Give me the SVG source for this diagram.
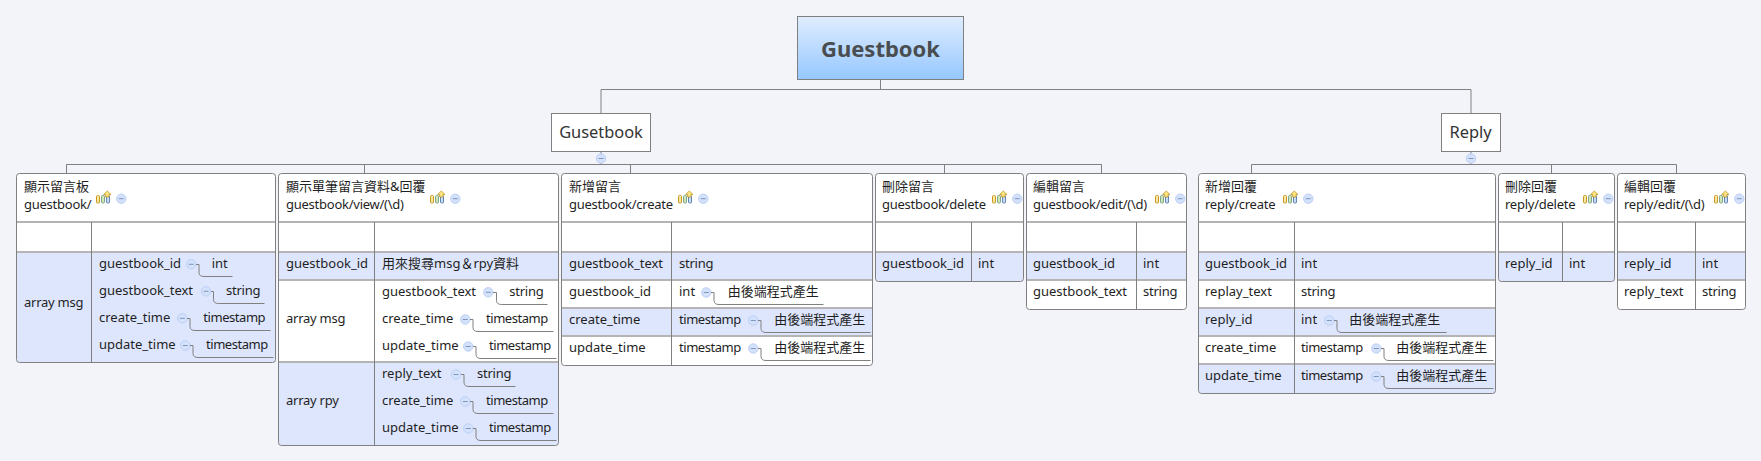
<svg xmlns="http://www.w3.org/2000/svg" width="1761" height="461" viewBox="0 0 1761 461">
<style>
text{font-family:"Noto Sans","Noto Sans CJK TC",sans-serif;font-size:13px;fill:#1f1f1f}
.t{letter-spacing:-.45px}
.h{letter-spacing:-.25px}
.up{transform:translateY(-.4px)}
.root{font-size:22px;font-weight:700;fill:#4a4d50;text-anchor:middle}
.main{font-size:16.4px;fill:#333;text-anchor:middle}
.box{fill:#fff;stroke:#808080;stroke-width:1}
.card{fill:none;stroke:#808080;stroke-width:1}
.bg{fill:#fff;stroke:none}
.blue{fill:#dde6fd;stroke:none}
.sep{stroke:#b4b4b4;stroke-width:2;fill:none}
.col{stroke:#808080;stroke-width:1;fill:none}
.con{stroke:#808080;stroke-width:1;fill:none}
.sub{stroke:#808080;stroke-width:1;fill:none}
.cc{fill:#d3e1fb;stroke:#bccff5;stroke-width:1}
.cm{stroke:#8296bd;stroke-width:1;fill:none}
</style>
<defs>
<linearGradient id="rootFill" x1="0" y1="0" x2="0" y2="1"><stop offset="0" stop-color="#e0edfe"/><stop offset="1" stop-color="#95c7ff"/></linearGradient>
<g id="collapse"><circle r="4.7" class="cc"/><path d="M-2.5 0H2.5" class="cm"/></g>
<g id="hicons">
<rect x="0.5" y="0.5" width="3" height="7.5" rx="1" fill="#f6e7a8" stroke="#c9981f"/>
<rect x="5.5" y="0.5" width="3" height="7.5" rx="1" fill="#cfe6b8" stroke="#7fa68a"/>
<rect x="10.5" y="0.5" width="3" height="7.5" rx="1" fill="#c9dcf3" stroke="#5f86b5"/>
<path d="M11.3 -4L15 -0.5H13V2H9.6V-0.5H7.6Z" fill="#ffe680" stroke="#b58a1f" stroke-width="0.7"/>
<use href="#collapse" x="25.3" y="3.7"/>
</g>
</defs>
<rect width="1761" height="461" fill="#f2f4fa"/>

<g id="connectors">
<path class="con" d="M880.5 79.5V89.5M601 89.5H1471M601 89.5V113M1471 89.5V113"/>
<path class="con" d="M601 152V164.5M66.5 164.5H1101.5M66.5 164.5V173.5M364.5 164.5V173.5M630.5 164.5V173.5M944.5 164.5V173.5M1101.5 164.5V173.5"/>
<path class="con" d="M1471 152V164.5M1251.5 164.5H1676.5M1251.5 164.5V173.5M1551.5 164.5V173.5M1676.5 164.5V173.5"/>
</g>

<g id="node-root">
<rect x="797.5" y="16.5" width="166" height="63" fill="url(#rootFill)" stroke="#808080"/>
<text class="root" x="880.5" y="56.5">Guestbook</text>
</g>
<g id="node-gusetbook">
<rect class="box" x="551.5" y="113.5" width="99" height="38"/>
<text class="main" x="601" y="137.5">Gusetbook</text>
<use href="#collapse" x="601" y="158.5"/>
</g>
<g id="node-reply">
<rect class="box" x="1441.5" y="113.5" width="59" height="38"/>
<text class="main" x="1470.5" y="137.5">Reply</text>
<use href="#collapse" x="1471" y="158.5"/>
</g>

<g id="card-list">
<rect class="bg" x="16.5" y="173.5" width="259" height="189" rx="3"/>
<path class="blue" d="M16.5 252H275.5V359.5a3 3 0 0 1-3 3H19.5a3 3 0 0 1-3-3Z"/>
<path class="sep" d="M17 222H275M17 252H275"/>
<path class="col" d="M91.5 222V362"/>
<rect class="card" x="16.5" y="173.5" width="259" height="189" rx="3"/>
<g class="up">
<text x="24" y="191.7">顯示留言板</text><text class="h" x="24" y="209.7">guestbook/</text>
<text class="h" x="24" y="307.5">array msg</text>
<text x="99" y="268">guestbook_id</text><text x="99" y="295">guestbook_text</text><text x="99" y="322">create_time</text><text x="99" y="349">update_time</text>
<text x="211.7" y="268">int</text><text class="h" x="226" y="295">string</text><text class="t" x="203.3" y="322">timestamp</text><text class="t" x="206" y="349">timestamp</text>
</g>
<use href="#hicons" x="96" y="195"/>
<use href="#collapse" x="191.3" y="264.3"/><path class="sub" d="M196 264.5H199V272.5Q199 276.5 204 276.5H232.5"/>
<use href="#collapse" x="206" y="291.3"/><path class="sub" d="M211 291.5H213.5V299.5Q213.5 303.5 218.5 303.5H264.5"/>
<use href="#collapse" x="182.3" y="318.3"/><path class="sub" d="M187 318.5H190V326.5Q190 330.5 195 330.5H270.5"/>
<use href="#collapse" x="185.3" y="345.5"/><path class="sub" d="M190 345.5H193V353.5Q193 357.5 198 357.5H273.5"/>
</g>

<g id="card-view">
<rect class="bg" x="278.5" y="173.5" width="280" height="272" rx="3"/>
<rect class="blue" x="278.5" y="252" width="280" height="28"/>
<path class="blue" d="M278.5 362H558.5V442.5a3 3 0 0 1-3 3H281.5a3 3 0 0 1-3-3Z"/>
<path class="sep" d="M279 222H558M279 252H558M279 280H558M279 362H558"/>
<path class="col" d="M374.5 222V445"/>
<rect class="card" x="278.5" y="173.5" width="280" height="272" rx="3"/>
<g class="up">
<text x="286" y="191.7">顯示單筆留言資料&amp;回覆</text><text class="h" x="286" y="209.7">guestbook/view/(\d)</text>
<text x="286" y="268">guestbook_id</text><text x="382" y="268">用來搜尋msg＆rpy資料</text>
<text class="h" x="286" y="323">array msg</text><text class="h" x="286" y="405">array rpy</text>
<text x="382" y="296">guestbook_text</text><text x="382" y="323">create_time</text><text x="382" y="350">update_time</text>
<text x="382" y="378">reply_text</text><text x="382" y="405">create_time</text><text x="382" y="432">update_time</text>
<text class="h" x="509.3" y="296">string</text><text class="t" x="486" y="323">timestamp</text><text class="t" x="489" y="350">timestamp</text>
<text class="h" x="477" y="378">string</text><text class="t" x="486" y="405">timestamp</text><text class="t" x="489" y="432">timestamp</text>
</g>
<use href="#hicons" x="430" y="195"/>
<use href="#collapse" x="488.3" y="292.3"/><path class="sub" d="M493 292.5H496.5V300.5Q496.5 304.5 501.5 304.5H547.5"/>
<use href="#collapse" x="465.3" y="319.5"/><path class="sub" d="M470 319.5H473V327.5Q473 331.5 478 331.5H553.5"/>
<use href="#collapse" x="468.3" y="346.5"/><path class="sub" d="M473 346.5H476V354.5Q476 358.5 481 358.5H556.5"/>
<use href="#collapse" x="456" y="374.5"/><path class="sub" d="M461 374.5H464V382.5Q464 386.5 469 386.5H515.5"/>
<use href="#collapse" x="465.3" y="401.5"/><path class="sub" d="M470 401.5H473V409.5Q473 413.5 478 413.5H553.5"/>
<use href="#collapse" x="468.3" y="428.5"/><path class="sub" d="M473 428.5H476V436.5Q476 440.5 481 440.5H556.5"/>
</g>

<g id="card-create">
<rect class="bg" x="561.5" y="173.5" width="311" height="192" rx="3"/>
<rect class="blue" x="561.5" y="252" width="311" height="28"/>
<rect class="blue" x="561.5" y="308" width="311" height="28"/>
<path class="sep" d="M562 222H872M562 252H872M562 280H872M562 308H872M562 336H872"/>
<path class="col" d="M671.5 222V365"/>
<rect class="card" x="561.5" y="173.5" width="311" height="192" rx="3"/>
<g class="up">
<text x="569" y="191.7">新增留言</text><text class="h" x="569" y="209.7">guestbook/create</text>
<text x="569" y="268">guestbook_text</text><text class="h" x="679" y="268">string</text>
<text x="569" y="296">guestbook_id</text><text x="679" y="296">int</text>
<text x="569" y="324">create_time</text><text class="t" x="679" y="324">timestamp</text>
<text x="569" y="352">update_time</text><text class="t" x="679" y="352">timestamp</text>
<text x="727.7" y="296">由後端程式產生</text><text x="774.3" y="324">由後端程式產生</text><text x="774.3" y="352">由後端程式產生</text>
</g>
<use href="#hicons" x="678" y="195"/>
<use href="#collapse" x="706.3" y="292.5"/><path class="sub" d="M711 292.5H714V300.5Q714 304.5 719 304.5H823.5"/>
<use href="#collapse" x="753.3" y="320.5"/><path class="sub" d="M758 320.5H761V328.5Q761 332.5 766 332.5H870.5"/>
<use href="#collapse" x="753.3" y="348.5"/><path class="sub" d="M758 348.5H761V356.5Q761 360.5 766 360.5H870.5"/>
</g>

<g id="card-delete">
<rect class="bg" x="875.5" y="173.5" width="148" height="108" rx="3"/>
<path class="blue" d="M875.5 252H1023.5V278.5a3 3 0 0 1-3 3H878.5a3 3 0 0 1-3-3Z"/>
<path class="sep" d="M876 222H1023M876 252H1023"/>
<path class="col" d="M971.5 222V281"/>
<rect class="card" x="875.5" y="173.5" width="148" height="108" rx="3"/>
<g class="up">
<text x="882" y="191.7">刪除留言</text><text class="h" x="882" y="209.7">guestbook/delete</text>
<text x="882" y="268">guestbook_id</text><text x="978" y="268">int</text>
</g>
<use href="#hicons" x="992" y="195"/>
</g>

<g id="card-edit">
<rect class="bg" x="1026.5" y="173.5" width="160" height="136" rx="3"/>
<rect class="blue" x="1026.5" y="252" width="160" height="28"/>
<path class="sep" d="M1027 222H1186M1027 252H1186M1027 280H1186"/>
<path class="col" d="M1136.5 222V309"/>
<rect class="card" x="1026.5" y="173.5" width="160" height="136" rx="3"/>
<g class="up">
<text x="1033" y="191.7">編輯留言</text><text class="h" x="1033" y="209.7">guestbook/edit/(\d)</text>
<text x="1033" y="268">guestbook_id</text><text x="1143" y="268">int</text>
<text x="1033" y="296">guestbook_text</text><text class="h" x="1143" y="296">string</text>
</g>
<use href="#hicons" x="1155" y="195"/>
</g>

<g id="card-reply-create">
<rect class="bg" x="1198.5" y="173.5" width="297" height="220" rx="3"/>
<rect class="blue" x="1198.5" y="252" width="297" height="28"/>
<rect class="blue" x="1198.5" y="308" width="297" height="28"/>
<path class="blue" d="M1198.5 364H1495.5V390.5a3 3 0 0 1-3 3H1201.5a3 3 0 0 1-3-3Z"/>
<path class="sep" d="M1199 222H1495M1199 252H1495M1199 280H1495M1199 308H1495M1199 336H1495M1199 364H1495"/>
<path class="col" d="M1294.5 222V393"/>
<rect class="card" x="1198.5" y="173.5" width="297" height="220" rx="3"/>
<g class="up">
<text x="1205" y="191.7">新增回覆</text><text class="h" x="1205" y="209.7">reply/create</text>
<text x="1205" y="268">guestbook_id</text><text x="1301" y="268">int</text>
<text x="1205" y="296">replay_text</text><text class="h" x="1301" y="296">string</text>
<text x="1205" y="324">reply_id</text><text x="1301" y="324">int</text>
<text x="1205" y="352">create_time</text><text class="t" x="1301" y="352">timestamp</text>
<text x="1205" y="380">update_time</text><text class="t" x="1301" y="380">timestamp</text>
<text x="1349.3" y="324">由後端程式產生</text><text x="1396.3" y="352">由後端程式產生</text><text x="1396.3" y="380">由後端程式產生</text>
</g>
<use href="#hicons" x="1283" y="195"/>
<use href="#collapse" x="1329.3" y="320.5"/><path class="sub" d="M1334 320.5H1337V328.5Q1337 332.5 1342 332.5H1446.5"/>
<use href="#collapse" x="1376.3" y="348.5"/><path class="sub" d="M1381 348.5H1384V356.5Q1384 360.5 1389 360.5H1493.5"/>
<use href="#collapse" x="1376.3" y="376.5"/><path class="sub" d="M1381 376.5H1384V384.5Q1384 388.5 1389 388.5H1493.5"/>
</g>

<g id="card-reply-delete">
<rect class="bg" x="1498.5" y="173.5" width="116" height="108" rx="3"/>
<path class="blue" d="M1498.5 252H1614.5V278.5a3 3 0 0 1-3 3H1501.5a3 3 0 0 1-3-3Z"/>
<path class="sep" d="M1499 222H1614M1499 252H1614"/>
<path class="col" d="M1562.5 222V281"/>
<rect class="card" x="1498.5" y="173.5" width="116" height="108" rx="3"/>
<g class="up">
<text x="1505" y="191.7">刪除回覆</text><text class="h" x="1505" y="209.7">reply/delete</text>
<text x="1505" y="268">reply_id</text><text x="1569" y="268">int</text>
</g>
<use href="#hicons" x="1583" y="195"/>
</g>

<g id="card-reply-edit">
<rect class="bg" x="1617.5" y="173.5" width="128" height="136" rx="3"/>
<rect class="blue" x="1617.5" y="252" width="128" height="28"/>
<path class="sep" d="M1618 222H1745M1618 252H1745M1618 280H1745"/>
<path class="col" d="M1695.5 222V309"/>
<rect class="card" x="1617.5" y="173.5" width="128" height="136" rx="3"/>
<g class="up">
<text x="1624" y="191.7">編輯回覆</text><text class="h" x="1624" y="209.7">reply/edit/(\d)</text>
<text x="1624" y="268">reply_id</text><text x="1702" y="268">int</text>
<text x="1624" y="296">reply_text</text><text class="h" x="1702" y="296">string</text>
</g>
<use href="#hicons" x="1714" y="195"/>
</g>
</svg>
